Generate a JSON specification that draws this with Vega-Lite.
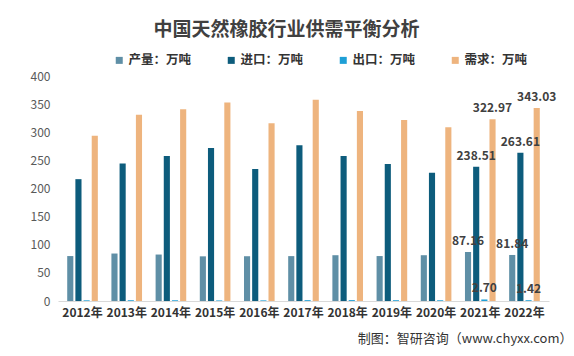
{
  "$schema": "https://vega.github.io/schema/vega-lite/v6.json",
  "autosize": {"type": "none"},
  "width": 491,
  "height": 225,
  "padding": {"left": 58, "top": 76, "right": 25, "bottom": 55},
  "background": "white",
  "config": {
    "view": {"stroke": null},
    "font": "Noto Sans CJK SC"
  },
  "title": {
    "text": "中国天然橡胶行业供需平衡分析",
    "anchor": "middle",
    "dx": -17,
    "offset": 14,
    "fontSize": 19,
    "fontWeight": "bold",
    "color": "#404040",
    "font": "Noto Sans CJK SC"
  },
  "data": {
    "values": [
      {"year": "2012年", "series": "产量：万吨", "value": 79.9},
      {"year": "2012年", "series": "进口：万吨", "value": 216.6},
      {"year": "2012年", "series": "出口：万吨", "value": 1.2},
      {"year": "2012年", "series": "需求：万吨", "value": 293.8},
      {"year": "2013年", "series": "产量：万吨", "value": 84.4},
      {"year": "2013年", "series": "进口：万吨", "value": 244.6},
      {"year": "2013年", "series": "出口：万吨", "value": 1.4},
      {"year": "2013年", "series": "需求：万吨", "value": 331.0},
      {"year": "2014年", "series": "产量：万吨", "value": 82.6},
      {"year": "2014年", "series": "进口：万吨", "value": 258.0},
      {"year": "2014年", "series": "出口：万吨", "value": 1.3},
      {"year": "2014年", "series": "需求：万吨", "value": 341.0},
      {"year": "2015年", "series": "产量：万吨", "value": 79.4},
      {"year": "2015年", "series": "进口：万吨", "value": 272.0},
      {"year": "2015年", "series": "出口：万吨", "value": 1.0},
      {"year": "2015年", "series": "需求：万吨", "value": 353.0},
      {"year": "2016年", "series": "产量：万吨", "value": 79.6},
      {"year": "2016年", "series": "进口：万吨", "value": 234.5},
      {"year": "2016年", "series": "出口：万吨", "value": 1.1},
      {"year": "2016年", "series": "需求：万吨", "value": 315.8},
      {"year": "2017年", "series": "产量：万吨", "value": 79.8},
      {"year": "2017年", "series": "进口：万吨", "value": 277.0},
      {"year": "2017年", "series": "出口：万吨", "value": 1.5},
      {"year": "2017年", "series": "需求：万吨", "value": 358.0},
      {"year": "2018年", "series": "产量：万吨", "value": 81.4},
      {"year": "2018年", "series": "进口：万吨", "value": 258.0},
      {"year": "2018年", "series": "出口：万吨", "value": 1.6},
      {"year": "2018年", "series": "需求：万吨", "value": 337.7},
      {"year": "2019年", "series": "产量：万吨", "value": 79.9},
      {"year": "2019年", "series": "进口：万吨", "value": 243.4},
      {"year": "2019年", "series": "出口：万吨", "value": 1.4},
      {"year": "2019年", "series": "需求：万吨", "value": 322.0},
      {"year": "2020年", "series": "产量：万吨", "value": 81.4},
      {"year": "2020年", "series": "进口：万吨", "value": 228.0},
      {"year": "2020年", "series": "出口：万吨", "value": 1.3},
      {"year": "2020年", "series": "需求：万吨", "value": 309.0},
      {"year": "2021年", "series": "产量：万吨", "value": 87.16},
      {"year": "2021年", "series": "进口：万吨", "value": 238.51},
      {"year": "2021年", "series": "出口：万吨", "value": 2.70},
      {"year": "2021年", "series": "需求：万吨", "value": 322.97},
      {"year": "2022年", "series": "产量：万吨", "value": 81.84},
      {"year": "2022年", "series": "进口：万吨", "value": 263.61},
      {"year": "2022年", "series": "出口：万吨", "value": 1.42},
      {"year": "2022年", "series": "需求：万吨", "value": 343.03}
    ]
  },
  "encoding": {
    "x": {
      "field": "year",
      "type": "nominal",
      "sort": null,
      "scale": {"paddingInner": 0.27, "paddingOuter": 0.19},
      "axis": {
        "title": "制图：智研咨询（www.chyxx.com）",
        "titleAnchor": "end",
        "titleAlign": "right",
        "titleX": 514,
        "titleFontSize": 13,
        "titleFontWeight": "normal",
        "titleColor": "#333333",
        "titlePadding": 14,
        "labelAngle": 0,
        "labelFontSize": 12,
        "labelFontWeight": "bold",
        "labelColor": "#333333",
        "labelPadding": 6,
        "ticks": false,
        "domainColor": "#D9D9D9",
        "domainWidth": 1
      }
    },
    "xOffset": {
      "field": "series",
      "type": "nominal",
      "sort": ["产量：万吨", "进口：万吨", "出口：万吨", "需求：万吨"],
      "scale": {"paddingInner": 0.25, "paddingOuter": 0.1}
    },
    "y": {
      "field": "value",
      "type": "quantitative",
      "scale": {"domain": [0, 400], "nice": false},
      "axis": {
        "title": null,
        "values": [0, 50, 100, 150, 200, 250, 300, 350, 400],
        "grid": false,
        "domain": false,
        "ticks": false,
        "labelFontSize": 12,
        "labelColor": "#595959",
        "labelPadding": 8
      }
    }
  },
  "layer": [
    {
      "mark": {"type": "bar"},
      "encoding": {
        "color": {
          "field": "series",
          "type": "nominal",
          "sort": ["产量：万吨", "进口：万吨", "出口：万吨", "需求：万吨"],
          "scale": {
            "domain": ["产量：万吨", "进口：万吨", "出口：万吨", "需求：万吨"],
            "range": ["#5F8FA6", "#0D5C7C", "#1E9FD6", "#EEB47E"]
          },
          "legend": {
            "title": null,
            "orient": "none",
            "direction": "horizontal",
            "legendX": 55,
            "legendY": -22,
            "symbolType": "square",
            "symbolSize": 49,
            "symbolStrokeWidth": 0,
            "labelFontSize": 12.5,
            "labelFontWeight": "bold",
            "labelColor": "#333333",
            "labelOffset": 3,
            "columnPadding": 33
          }
        }
      }
    },
    {
      "transform": [{"filter": "datum.year == '2021年' || datum.year == '2022年'"}],
      "mark": {
        "type": "text",
        "baseline": "bottom",
        "dy": -4,
        "fontSize": 12,
        "fontWeight": "bold",
        "color": "#404040"
      },
      "encoding": {
        "text": {"field": "value", "type": "quantitative", "format": ".2f"}
      }
    }
  ]
}
